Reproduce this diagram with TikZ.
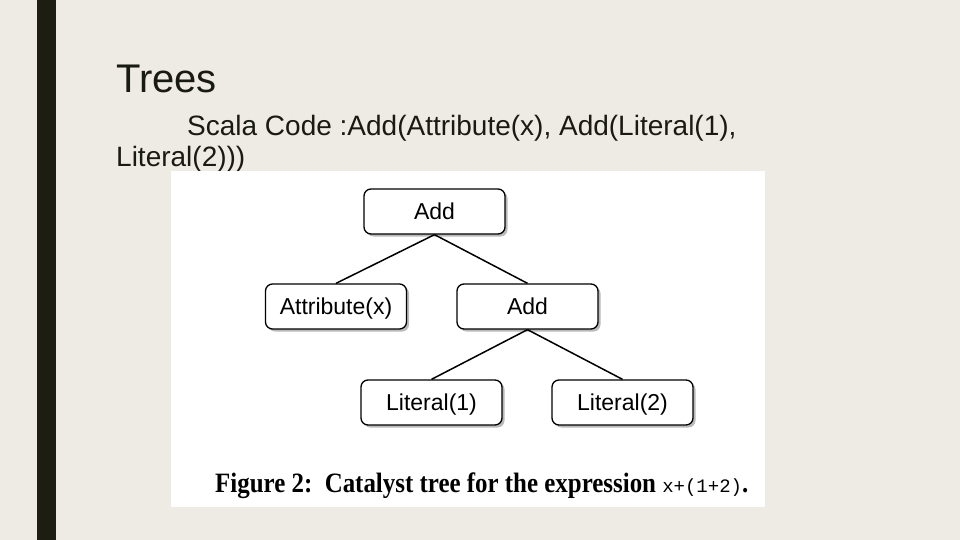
\documentclass[tikz,border=0pt]{standalone}
\usepackage{fontspec}
\setmainfont{Liberation Sans}
\newfontfamily\capfont[FakeStretch=0.89]{Liberation Serif}
\newfontfamily\capmono{Liberation Mono}
\usetikzlibrary{shadows}
\definecolor{slidebg}{RGB}{238,235,228}
\definecolor{slidebar}{RGB}{29,29,17}
\definecolor{slidetext}{RGB}{26,26,20}
\tikzset{
  treenode/.style={draw,line width=1.3pt,rounded corners=7pt,fill=white,minimum width=141pt,minimum height=45pt,
    font=\fontsize{23}{24}\selectfont,text=black,text height=18pt,text depth=3pt,
    drop shadow={shadow xshift=2.5pt,shadow yshift=-2.5pt,fill=black!45,opacity=0.6}},
  treeedge/.style={line width=1.5pt}
}
\begin{document}
\begin{tikzpicture}[x=1pt,y=-1pt]
\fill[slidebg] (0,0) rectangle (960,540);
\useasboundingbox (0,0) rectangle (960,540);
\fill[slidebar] (37,0) rectangle (56,540);
% title and code line
\node[anchor=base west,inner sep=0,text=slidetext,font=\fontsize{40}{44}\selectfont] (title) at (116,93) {Trees};
\node[anchor=base west,inner sep=0,text=slidetext,font=\fontsize{28}{32}\selectfont] (code1) at (187,136) {Scala Code :Add(Attribute(x), Add(Literal(1),};
\node[anchor=base west,inner sep=0,text=slidetext,font=\fontsize{28}{32}\selectfont] (code2) at (116,167) {Literal(2)))};
% the figure
\fill[white] (171,171) rectangle (765,507);
\node[treenode] (add) at (434.5,211.5) {Add};
\node[treenode] (attr) at (336,306.5) {Attribute(x)};
\node[treenode] (addr) at (527.5,306.5) {Add};
\node[treenode] (lit1) at (431.5,402.5) {Literal(1)};
\node[treenode] (lit2) at (622.5,402.5) {Literal(2)};
\draw[treeedge] (add.south) -- (attr.north);
\draw[treeedge] (add.south) -- (addr.north);
\draw[treeedge] (addr.south) -- (lit1.north);
\draw[treeedge] (addr.south) -- (lit2.north);
\node[anchor=base west,inner sep=0,font=\capfont\bfseries\fontsize{28}{30}\selectfont] (caption) at (215,492)
  {Figure 2:\ \ Catalyst tree for the expression {\capmono\mdseries\fontsize{19}{24}\selectfont x+(1+2)}.};
\end{tikzpicture}
\end{document}
